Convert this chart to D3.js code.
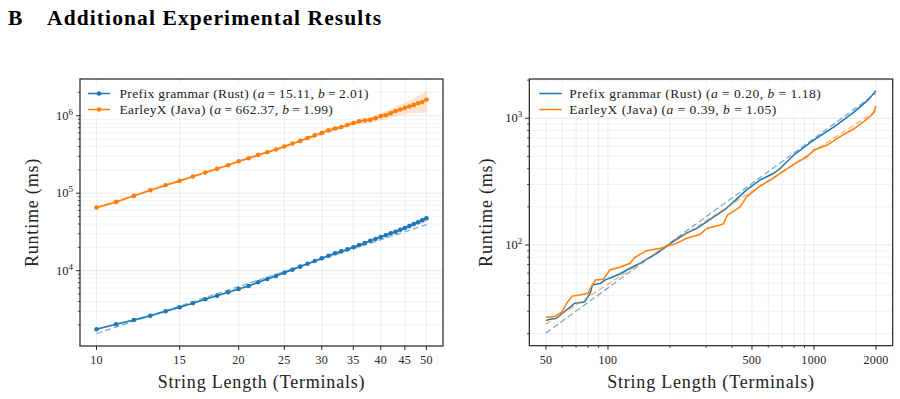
<!DOCTYPE html>
<html>
<head>
<meta charset="utf-8">
<script src="https://cdn.jsdelivr.net/npm/d3@7/dist/d3.min.js"></script>
<style>
 body { margin: 0; background: #fff; }
 text { font-family: "Liberation Serif", "Times New Roman", serif; fill: #222; }
</style>
</head>
<body>
<div id="chart"></div>
<script>
// ---- data: left panel (n = 10..50) ----
var leftN = [10, 11, 12, 13, 14, 15, 16, 17, 18, 19, 20, 21, 22, 23, 24, 25, 26, 27, 28, 29, 30,
  31, 32, 33, 34, 35, 36, 37, 38, 39, 40, 41, 42, 43, 44, 45, 46, 47, 48, 49, 50];
var rustMs = [1754, 2032, 2312, 2626, 2994, 3371, 3795, 4276, 4757, 5263, 5805, 6350, 7085, 7812, 8548,
  9420, 10300, 11270, 12300, 13340, 14450, 15620, 16780, 17790, 18890, 20040, 21460, 22760, 24380,
  25650, 27230, 28630, 30380, 31860, 33820, 35560, 37760, 40080, 42160, 44700, 47450];
var rustSpread = [0.03, 0.03, 0.03, 0.03, 0.03, 0.03, 0.03, 0.03, 0.03, 0.03, 0.03, 0.03, 0.03, 0.03, 0.03,
  0.03, 0.03, 0.03, 0.03, 0.03, 0.03, 0.03, 0.03, 0.03, 0.04, 0.04, 0.04, 0.04, 0.05, 0.05,
  0.05, 0.05, 0.06, 0.06, 0.06, 0.07, 0.07, 0.08, 0.08, 0.09, 0.10];
var javaMs = [65300, 77200, 92300, 109400, 126900, 144100, 164200, 184900, 206000, 229800, 258800,
  283100, 312000, 338000, 366400, 400600, 437700, 473000, 517000, 560000, 600000, 650000, 684000,
  716000, 760000, 807000, 849000, 867000, 883000, 929000, 986000, 1014000, 1077000, 1153000,
  1202000, 1261000, 1315000, 1380000, 1449000, 1507000, 1621000];
var javaSpread = [0.04, 0.04, 0.04, 0.04, 0.04, 0.04, 0.04, 0.04, 0.04, 0.04, 0.04, 0.04, 0.04, 0.04, 0.04,
  0.04, 0.04, 0.04, 0.04, 0.04, 0.05, 0.05, 0.05, 0.05, 0.06, 0.06, 0.07, 0.08, 0.09, 0.10,
  0.11, 0.12, 0.13, 0.14, 0.15, 0.17, 0.19, 0.22, 0.25, 0.28, 0.32];
var leftFit = { rust: [15.11, 2.01], java: [662.37, 1.99] };
var leftXTicks = [10, 15, 20, 25, 30, 35, 40, 45, 50];

// ---- data: right panel (n = 50..2000) ----
var rRustN = [50, 52, 56, 60, 66, 69, 74, 77, 82, 84, 92, 97, 106, 114, 128, 143, 157, 171, 192, 215,
  241, 270, 302, 350, 368, 408, 471, 548, 637, 687, 798, 1000, 1256, 1576, 1833, 2000];
var rRustMs = [25.3, 25.9, 26.3, 28.9, 32.6, 34.7, 35.1, 35.6, 41.6, 48.3, 49.9, 53, 56.2, 59, 65.5,
  71.7, 78.6, 85, 97, 111, 124, 135, 153, 180, 189, 220, 272, 326, 368, 403, 513, 674, 859, 1128,
  1396, 1653];
var rJavaN = [50, 55, 60, 63, 67, 73, 80, 83, 87, 95, 102, 114, 128, 135, 154, 180, 192, 215, 241,
  279, 302, 350, 363, 380, 405, 440, 471, 548, 618, 687, 798, 927, 1000, 1160, 1340, 1576, 1833, 1940, 2000];
var rJavaMs = [26.9, 27.2, 29.8, 34.7, 39.5, 40.3, 41.6, 46.9, 53, 53.6, 63.5, 66.7, 71.7, 80, 90.2,
  94.2, 97, 103, 113, 121, 135, 144, 147, 172, 183, 201, 240, 292, 326, 368, 433, 497, 562, 615,
  716, 834, 1000, 1095, 1250];
var rightFit = { rust: [0.20, 1.18], java: [0.39, 1.05] };
var rightXTicks = [50, 100, 500, 1000, 2000];
var rightXMinor = [60, 70, 80, 90, 200, 300, 400, 600, 700, 800, 900];

var BLUE = "#1f77b4", ORANGE = "#ff7f0e";
var W = 900, H = 399;

var svg = d3.select("#chart").append("svg").attr("width", W).attr("height", H);

svg.append("text").attr("x", 8).attr("y", 25).attr("font-size", 21.5).attr("font-weight", "bold")
  .style("fill", "#000").text("B");
svg.append("text").attr("x", 47).attr("y", 25).attr("font-size", 21.5).attr("font-weight", "bold")
  .attr("letter-spacing", 1.1).style("fill", "#000").text("Additional Experimental Results");

function decadeTicks(dom) {
  var major = [], minor = [];
  var lo = Math.floor(Math.log10(dom[0])), hi = Math.ceil(Math.log10(dom[1]));
  for (var e = lo; e <= hi; e++) {
    for (var m = 1; m < 10; m++) {
      var v = m * Math.pow(10, e);
      if (v < dom[0] || v > dom[1]) continue;
      if (m === 1) major.push(v); else minor.push(v);
    }
  }
  return { major: major, minor: minor };
}

function panel(p) {
  var g = svg.append("g");
  var x = d3.scaleLog().domain(p.xDomain).range([p.x0, p.x1]);
  var y = d3.scaleLog().domain(p.yDomain).range([p.y1, p.y0]);
  var yt = decadeTicks(p.yDomain);

  // grid
  var grid = g.append("g");
  grid.selectAll("line.hy").data(yt.major.concat(yt.minor)).enter().append("line")
    .attr("x1", p.x0).attr("x2", p.x1).attr("y1", function (d) { return y(d); }).attr("y2", function (d) { return y(d); })
    .attr("stroke", function (d) { return yt.major.indexOf(d) >= 0 ? "#e2e2e2" : "#efefef"; }).attr("stroke-width", 0.8);
  grid.selectAll("line.vx").data(p.xGrid).enter().append("line")
    .attr("y1", p.y0).attr("y2", p.y1).attr("x1", function (d) { return x(d); }).attr("x2", function (d) { return x(d); })
    .attr("stroke", "#e8e8e8").attr("stroke-width", 0.8);

  var clip = "clip" + p.id;
  g.append("clipPath").attr("id", clip).append("rect")
    .attr("x", p.x0).attr("y", p.y0).attr("width", p.x1 - p.x0).attr("height", p.y1 - p.y0);
  var plot = g.append("g").attr("clip-path", "url(#" + clip + ")");

  p.series.forEach(function (s) {
    var pts = s.n.map(function (n, i) { return { n: n, v: s.v[i], s: s.spread ? s.spread[i] : 0 }; });
    if (s.spread) {
      plot.append("path").datum(pts)
        .attr("d", d3.area().x(function (d) { return x(d.n); })
          .y0(function (d) { return y(d.v * (1 - d.s)); }).y1(function (d) { return y(d.v * (1 + d.s)); }))
        .attr("fill", s.color).attr("opacity", 0.2);
    }
    // fitted power law a * n^b, drawn over the series' n range
    var fitPts = [s.n[0], s.n[s.n.length - 1]];
    var fitLine = d3.line().x(function (n) { return x(n); }).y(function (n) { return y(s.fit[0] * Math.pow(n, s.fit[1])); });
    var fitN = d3.range(0, 41).map(function (k) { return fitPts[0] * Math.pow(fitPts[1] / fitPts[0], k / 40); });
    plot.append("path").datum(fitN).attr("d", fitLine)
      .attr("fill", "none").attr("stroke", s.color).attr("stroke-width", 1.3)
      .attr("stroke-dasharray", "6,3").attr("opacity", 0.6);
    plot.append("path").datum(pts)
      .attr("d", d3.line().x(function (d) { return x(d.n); }).y(function (d) { return y(d.v); }))
      .attr("fill", "none").attr("stroke", s.color).attr("stroke-width", 1.5);
    if (p.markers) {
      plot.selectAll(null).data(pts).enter().append("circle")
        .attr("cx", function (d) { return x(d.n); }).attr("cy", function (d) { return y(d.v); })
        .attr("r", 2.3).attr("fill", s.color);
    }
  });

  // frame
  g.append("rect").attr("x", p.x0).attr("y", p.y0).attr("width", p.x1 - p.x0).attr("height", p.y1 - p.y0)
    .attr("fill", "none").attr("stroke", "#222").attr("stroke-width", 1.2);

  // y ticks
  g.selectAll(null).data(yt.major).enter().append("line")
    .attr("x1", p.x0 - 4).attr("x2", p.x0).attr("y1", function (d) { return y(d); }).attr("y2", function (d) { return y(d); })
    .attr("stroke", "#222").attr("stroke-width", 1);
  g.selectAll(null).data(yt.minor).enter().append("line")
    .attr("x1", p.x0 - 2.2).attr("x2", p.x0).attr("y1", function (d) { return y(d); }).attr("y2", function (d) { return y(d); })
    .attr("stroke", "#222").attr("stroke-width", 0.8);
  var yl = g.selectAll(null).data(yt.major).enter().append("text")
    .attr("x", p.x0 - 7).attr("y", function (d) { return y(d) + 4; })
    .attr("text-anchor", "end").attr("font-size", 12.5);
  yl.append("tspan").text("10");
  yl.append("tspan").attr("dy", -5).attr("font-size", 9).text(function (d) { return Math.round(Math.log10(d)); });

  // x ticks
  g.selectAll(null).data(p.xTicks).enter().append("line")
    .attr("y1", p.y1).attr("y2", p.y1 + 4).attr("x1", function (d) { return x(d); }).attr("x2", function (d) { return x(d); })
    .attr("stroke", "#222").attr("stroke-width", 1);
  g.selectAll(null).data(p.xMinor).enter().append("line")
    .attr("y1", p.y1).attr("y2", p.y1 + 2.2).attr("x1", function (d) { return x(d); }).attr("x2", function (d) { return x(d); })
    .attr("stroke", "#222").attr("stroke-width", 0.8);
  g.selectAll(null).data(p.xTicks).enter().append("text")
    .attr("x", function (d) { return x(d); }).attr("y", p.y1 + 18)
    .attr("text-anchor", "middle").attr("font-size", 12).attr("letter-spacing", 0.3).text(function (d) { return d; });

  // axis labels
  g.append("text").attr("x", (p.x0 + p.x1) / 2).attr("y", 388).attr("text-anchor", "middle")
    .attr("font-size", 18).attr("letter-spacing", 0.8).text("String Length (Terminals)");
  g.append("text").attr("transform", "translate(" + p.yLabelX + "," + ((p.y0 + p.y1) / 2) + ") rotate(-90)")
    .attr("text-anchor", "middle").attr("font-size", 18).attr("letter-spacing", 0.8).text("Runtime (ms)");

  // legend
  var lg = g.append("g");
  var box = lg.append("rect").attr("fill", "#fff").attr("opacity", 0.8);
  var texts = [];
  p.series.forEach(function (s, i) {
    var ly = p.y0 + 14.5 + i * 16;
    lg.append("line").attr("x1", p.x0 + p.lx[0]).attr("x2", p.x0 + p.lx[1]).attr("y1", ly).attr("y2", ly)
      .attr("stroke", s.color).attr("stroke-width", 1.5);
    if (p.markers) {
      lg.append("circle").attr("cx", p.x0 + (p.lx[0] + p.lx[1]) / 2).attr("cy", ly).attr("r", 2.3).attr("fill", s.color);
    }
    var t = lg.append("text").attr("x", p.x0 + p.lx[2]).attr("y", ly + 4).attr("font-size", 13.5)
      .attr("letter-spacing", p.legendSpacing);
    var eq = p.markers ? "\u2009=\u2009" : " = ";
    t.append("tspan").text(s.label + " (");
    t.append("tspan").attr("font-style", "italic").text("a");
    t.append("tspan").text(eq + s.fit[0].toFixed(2) + ",  ");
    t.append("tspan").attr("font-style", "italic").text("b");
    t.append("tspan").text(eq + s.fit[1].toFixed(2) + ")");
    texts.push(t);
  });
  var maxW = d3.max(texts, function (t) { return t.node().getComputedTextLength(); });
  box.attr("x", p.x0 + 3).attr("y", p.y0 + 4).attr("width", p.lx[2] + maxW + 2).attr("height", 34);
}

panel({
  id: "L", x0: 80, x1: 443, y0: 79, y1: 346,
  xDomain: [10 / Math.pow(10, 0.035), 50 * Math.pow(10, 0.035)],
  yDomain: [Math.pow(10, 3.028), Math.pow(10, 6.474)],
  xTicks: leftXTicks, xMinor: [], xGrid: leftXTicks,
  markers: true, yLabelX: 38, lx: [8, 30, 39.5], legendSpacing: 0.35,
  series: [
    { n: leftN, v: rustMs, spread: rustSpread, fit: leftFit.rust, color: BLUE, label: "Prefix grammar (Rust)" },
    { n: leftN, v: javaMs, spread: javaSpread, fit: leftFit.java, color: ORANGE, label: "EarleyX (Java)" }
  ]
});

panel({
  id: "R", x0: 529.3, x1: 892.7, y0: 79, y1: 345.7,
  xDomain: [41.5, 2411],
  yDomain: [Math.pow(10, 1.205), Math.pow(10, 3.31)],
  xTicks: rightXTicks, xMinor: rightXMinor, xGrid: rightXTicks.concat(rightXMinor),
  markers: false, yLabelX: 492, lx: [10, 32.5, 40], legendSpacing: 0.5,
  series: [
    { n: rRustN, v: rRustMs, fit: rightFit.rust, color: BLUE, label: "Prefix grammar (Rust)" },
    { n: rJavaN, v: rJavaMs, fit: rightFit.java, color: ORANGE, label: "EarleyX (Java)" }
  ]
});
</script>
</body>
</html>
